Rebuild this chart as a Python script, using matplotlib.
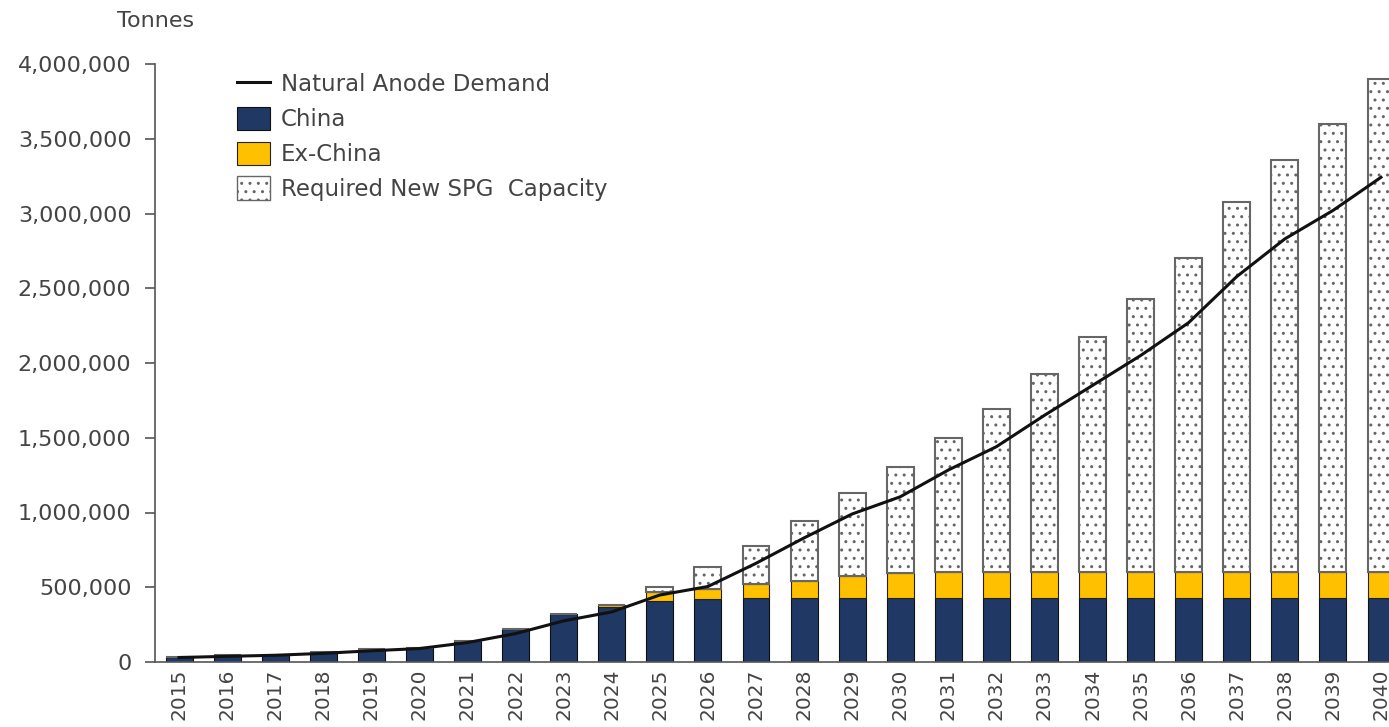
import matplotlib
matplotlib.use("Agg")
import matplotlib.pyplot as plt
from matplotlib.patches import Patch
from matplotlib.lines import Line2D
from matplotlib.ticker import FuncFormatter

years = [str(y) for y in range(2015, 2041)]
china = [35000, 45000, 47000, 65000, 85000, 95000, 143000, 220000, 318000, 365000,
         410000, 420000, 425000, 425000, 425000, 425000, 425000, 425000, 425000, 425000,
         425000, 425000, 425000, 425000, 425000, 425000]
ex_china = [0, 0, 0, 0, 0, 0, 0, 0, 0, 15000,
            55000, 67000, 100000, 115000, 150000, 170000, 175000, 175000, 175000, 175000,
            175000, 175000, 175000, 175000, 175000, 175000]
total_capacity = [35000, 45000, 47000, 65000, 85000, 95000, 143000, 220000, 318000, 380000,
                  502000, 633000, 775000, 945000, 1130000, 1306000, 1498000, 1694000, 1925000, 2174000,
                  2430000, 2704000, 3079000, 3358000, 3600000, 3900000]
demand = [30000, 38000, 45000, 58000, 75000, 90000, 130000, 190000, 275000, 335000,
          448000, 505000, 660000, 830000, 990000, 1105000, 1284000, 1440000, 1650000, 1850000,
          2050000, 2270000, 2578000, 2830000, 3020000, 3242000]
required_new = [max(t - c - e, 0) for t, c, e in zip(total_capacity, china, ex_china)]

plt.rcParams['font.family'] = ['DejaVu Sans']
plt.rcParams['hatch.linewidth'] = 1.0
text_col = '#444444'

fig = plt.figure(figsize=(13.89, 7.27), dpi=100)
ax = fig.add_axes([155 / 1389, 65 / 727, 1250 / 1389, 598 / 727])

x = list(range(len(years)))
w = 0.56
navy = '#1f3864'
yellow = '#ffc000'

ax.bar(x, china, width=w, color=navy, edgecolor='#111111', linewidth=0.8, zorder=2)
ax.bar(x, ex_china, width=w, bottom=china, color=yellow, edgecolor='#222222', linewidth=0.8, zorder=2)
req_bottom = [c + e for c, e in zip(china, ex_china)]
ax.bar(x, required_new, width=w, bottom=req_bottom, color='white', edgecolor='#666666',
       hatch='..', linewidth=1.5, zorder=2)
ax.plot(x, demand, color='#111111', linewidth=2.2, zorder=4)

ax.set_xlim(-0.5, len(years) - 0.5)
ax.set_ylim(0, 4000000)
ax.set_yticks(range(0, 4000001, 500000))
ax.yaxis.set_major_formatter(FuncFormatter(lambda v, p: f"{int(v):,}"))
ax.set_xticks(x)
ax.set_xticklabels(years, rotation=90)
ax.tick_params(axis='y', direction='out', length=7, width=1.2, color='#555555',
               labelsize=16, labelcolor=text_col, pad=10)
ax.tick_params(axis='x', length=0, labelsize=14.5, labelcolor=text_col, pad=5)
for s in ['top', 'right']:
    ax.spines[s].set_visible(False)
for s in ['left', 'bottom']:
    ax.spines[s].set_color('#555555')
    ax.spines[s].set_linewidth(1.2)

fig.text(117 / 1389, 1 - 21 / 727, 'Tonnes', fontsize=16, color=text_col, va='center', ha='left')

handles = [
    Line2D([0], [0], color='#111111', linewidth=2.2),
    Patch(facecolor=navy, edgecolor='#111111', linewidth=0.8),
    Patch(facecolor=yellow, edgecolor='#222222', linewidth=0.8),
    Patch(facecolor='white', edgecolor='#666666', hatch='..', linewidth=1.0),
]
labels = ['Natural Anode Demand', 'China', 'Ex-China', 'Required New SPG  Capacity']
leg = fig.legend(handles, labels, loc='upper left', bbox_to_anchor=(237 / 1389, 1 - 72 / 727),
                 frameon=False, fontsize=16.5, handlelength=1.45, handleheight=1.2,
                 handletextpad=0.45, labelspacing=0.45, borderaxespad=0, borderpad=0)
for t in leg.get_texts():
    t.set_color(text_col)

fig.savefig('out.png', dpi=100)
